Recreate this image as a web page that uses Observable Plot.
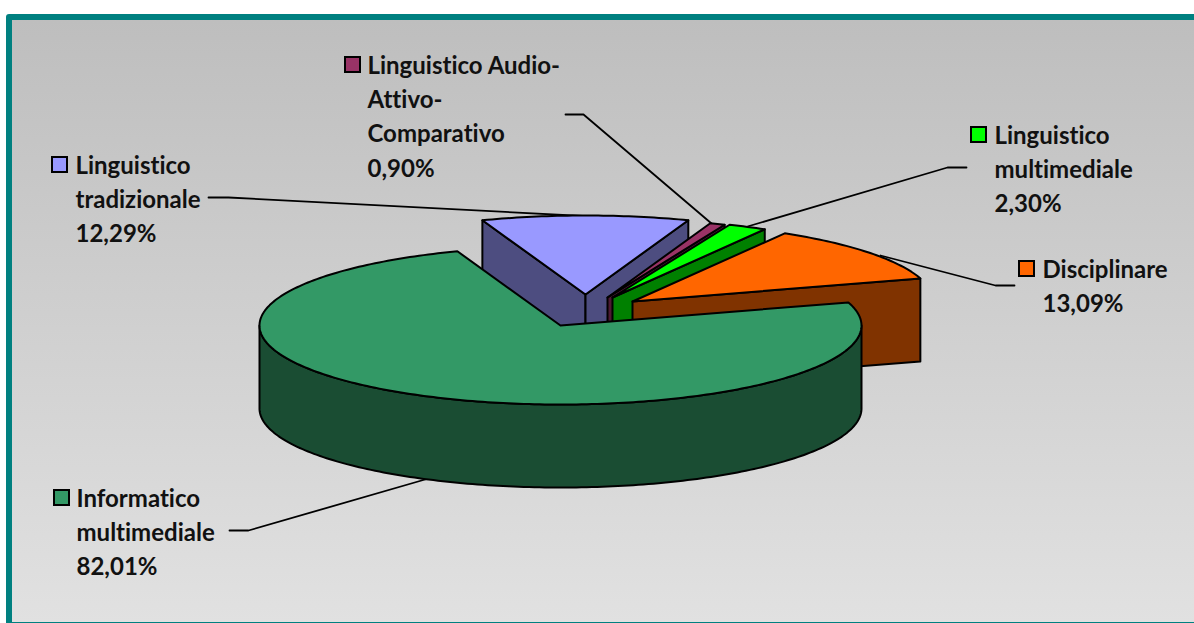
<!DOCTYPE html>
<html>
<head>
<meta charset="utf-8">
<style>
  html, body { margin: 0; padding: 0; background: #fff; }
  svg { display: block; }
  svg text { font-variant-ligatures: none; font-kerning: normal; }
</style>
<script src="https://cdn.jsdelivr.net/npm/d3@7"></script>
<script src="https://cdn.jsdelivr.net/npm/@observablehq/plot@0.6"></script>
</head>
<body>
<script>
// ---- data, in the clockwise order of the pie ----
const categories = ["Informatico multimediale", "Linguistico tradizionale", "Linguistico Audio-Attivo-Comparativo", "Linguistico multimediale", "Disciplinare"];
const values = [82.01, 12.29, 0.90, 2.30, 13.09];
const labelLines = [
  ["Informatico", "multimediale"],
  ["Linguistico", "tradizionale"],
  ["Linguistico Audio-", "Attivo-", "Comparativo"],
  ["Linguistico", "multimediale"],
  ["Disciplinare"]
];
const topColors = ["#339966", "#9999FF", "#993366", "#00FF00", "#FF6600"];
const wallColors = ["#1A4D33", "#4D4D80", "#4D1A33", "#008000", "#803300"];

// ---- layout of the drawing ----
const W = 1194, H = 623;
const center = [560, 325], rx = 301, ry = 79, depth = 83;
const startDeg = 17;                 // where the first slice starts, then clockwise
const explode = [[0, 0], [25, -31], [47, -28], [52, -28], [72, -24]];
const swatches = [[54, 490], [52, 157], [345, 57], [971, 127], [1019, 261]];
const swatchSize = 15;
const textAt = [[76, 506], [75, 173], [367, 73], [994, 143], [1042, 277]];
const lineStep = 34.4;
const leaders = [
  [[229, 530], [248, 530], [428, 478]],
  [[208, 197], [228, 197], [592, 216]],
  [[565, 114], [583, 114], [711, 223]],
  [[966, 167], [947, 167], [747, 226]],
  [[1014, 285], [995, 285], [880, 255]]
];

// ---- geometry derived from the values ----
const total = d3.sum(values);
let running = startDeg;
const slices = values.map((v, i) => {
  const sweep = v / total * 360;
  const s = {i, from: running, to: running - sweep, apex: [center[0] + explode[i][0], center[1] + explode[i][1]]};
  running -= sweep;
  return s;
});
const rim = (s, deg, drop = 0) => ({
  x: s.apex[0] + rx * Math.cos(deg * Math.PI / 180),
  y: s.apex[1] - ry * Math.sin(deg * Math.PI / 180) + drop
});
const pt = (p, drop = 0) => ({x: p[0], y: p[1] + drop});
const sweepRim = (s, a, b, drop = 0) => {
  const n = Math.max(2, Math.ceil(Math.abs(a - b)));
  return d3.range(n + 1).map(k => rim(s, a + (b - a) * k / n, drop));
};
const topFace = s => [pt(s.apex), ...sweepRim(s, s.from, s.to)];
const edgeWall = (s, deg) => {
  const e = rim(s, deg);
  return [pt(s.apex), e, {x: e.x, y: e.y + depth}, pt(s.apex, depth)];
};
const curvedWall = (s, a, b) => [...sweepRim(s, a, b), ...sweepRim(s, b, a, depth)];

const faces = [];
const face = (points, fill) => faces.push({points, fill});
// exploded slices, back to front (left to right here)
[1, 2, 3, 4].forEach(i => {
  const s = slices[i];
  if (i === 1) face(edgeWall(s, s.from), wallColors[i]);
  face(edgeWall(s, s.to), wallColors[i]);
  face(topFace(s), topColors[i]);
});
// main slice
const main = slices[0];
face(curvedWall(main, 0, -180), wallColors[0]);
face(topFace(main), topColors[0]);

// ---- label rows, one per text line ----
const labelRows = labelLines.flatMap((lines, i) => {
  const all = [...lines, values[i].toFixed(2).replace(".", ",") + "%"];
  return all.map((t, k) => ({t, x: textAt[i][0], y: textAt[i][1] + k * lineStep}));
});
const swatchRows = swatches.map((p, i) => ({x1: p[0], x2: p[0] + swatchSize, y1: p[1], y2: p[1] + swatchSize, fill: topColors[i]}));

const defs = () => {
  const s = d3.create("svg:defs");
  const g = s.append("linearGradient").attr("id", "bg").attr("x1", 0).attr("x2", 0).attr("y1", 0).attr("y2", 1);
  g.append("stop").attr("offset", "0%").attr("stop-color", "#BEBEBE");
  g.append("stop").attr("offset", "100%").attr("stop-color", "#E1E1E1");
  return s.node();
};

const chart = Plot.plot({
  width: W, height: H,
  margin: 0,
  x: {domain: [0, W], range: [0, W], axis: null},
  y: {domain: [0, H], range: [0, H], axis: null},
  marks: [
    defs,
    Plot.rect([{x1: 6, x2: W + 10, y1: 14, y2: H + 10}], {x1: "x1", x2: "x2", y1: "y1", y2: "y2", fill: "#008080", rx: 3, clip: true}),
    Plot.rect([{x1: 12, x2: W + 10, y1: 20, y2: 622}], {x1: "x1", x2: "x2", y1: "y1", y2: "y2", fill: "url(#bg)", clip: true}),
    ...leaders.map(l => Plot.line(l.map(p => pt(p)), {x: "x", y: "y", stroke: "#000", strokeWidth: 1.8})),
    ...faces.map(f => Plot.line(f.points, {x: "x", y: "y", fill: f.fill, stroke: "#000", strokeWidth: 2, curve: "linear-closed", strokeLinejoin: "round"})),
    Plot.rect(swatchRows, {x1: "x1", x2: "x2", y1: "y1", y2: "y2", fill: d => d.fill, stroke: "#000", strokeWidth: 2}),
    Plot.text(labelRows, {x: "x", y: "y", text: "t", textAnchor: "start", lineAnchor: "bottom", dy: 0, fontSize: 24, fontWeight: 700, fontFamily: "Lato", fill: "#111"})
  ]
});
document.body.appendChild(chart);
</script>
</body>
</html>
